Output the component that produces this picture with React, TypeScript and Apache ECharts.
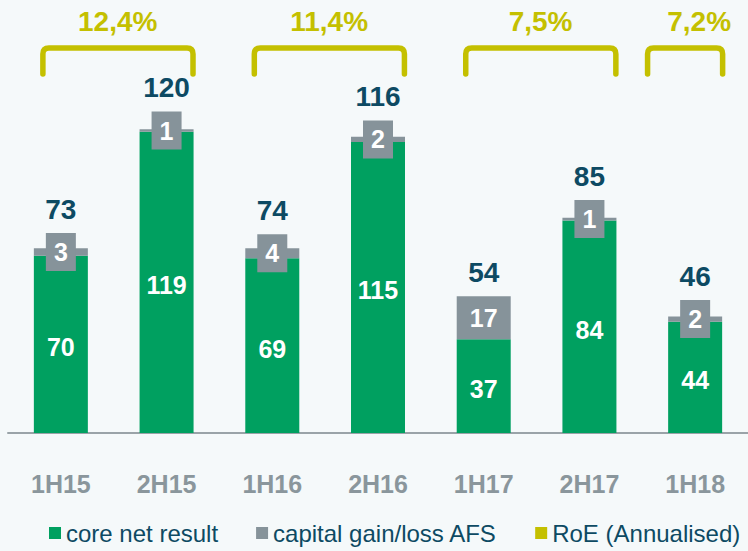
import React, { useEffect, useRef } from "react";
import * as echarts from "echarts";

const categories = ["1H15", "2H15", "1H16", "2H16", "1H17", "2H17", "1H18"];
const coreNetResult = [70, 119, 69, 115, 37, 84, 44];
const capitalGainAFS = [3, 1, 4, 2, 17, 1, 2];
const totalResult = [73, 120, 74, 116, 54, 85, 46];
const roeStart = [0, 2, 4, 6];
const roeEnd = [1, 3, 5, 6];
const roeLabels = ["12,4%", "11,4%", "7,5%", "7,2%"];

const FONT = "'Liberation Sans', Arial, sans-serif";
const GREEN = "#00a060";
const GRAY = "#86939a";
const YELLOW = "#c4c000";
const DARK = "#0d4a63";
const BG = "#f5f9fa";

export default function App() {
  const ref = useRef<HTMLDivElement>(null);
  useEffect(() => {
    if (!ref.current) return;
    const chart = echarts.init(ref.current, undefined, { renderer: "svg" });
    const totalsData = categories.map((_, i) => [i, coreNetResult[i], capitalGainAFS[i], totalResult[i]]);
    const roeData = roeStart.map((s, i) => [s, roeEnd[i], i]);
    chart.setOption({
      animation: false,
      backgroundColor: BG,
      textStyle: { fontFamily: FONT },
      grid: { left: 8, top: 28, width: 751, height: 405 },
      legend: {
        left: 49,
        top: 521,
        width: 740,
        padding: 0,
        icon: "rect",
        itemWidth: 12,
        itemHeight: 12,
        itemGap: 38,
        data: ["core net result", "capital gain/loss AFS", "RoE (Annualised)"],
        textStyle: { color: DARK, fontSize: 24, fontFamily: FONT },
      },
      xAxis: {
        type: "category",
        data: categories,
        axisTick: { show: false },
        axisLine: { lineStyle: { color: "#9aa3a8", width: 2 } },
        axisLabel: { color: "#8a969c", fontSize: 25, fontWeight: "bold", margin: 38, fontFamily: FONT },
      },
      yAxis: { type: "value", min: 0, max: 160, show: false, splitLine: { show: false } },
      series: [
        {
          name: "core net result",
          type: "bar",
          stack: "total",
          barWidth: 54,
          data: coreNetResult,
          itemStyle: { color: GREEN },
          label: {
            show: true,
            position: "inside",
            offset: [0, 3],
            color: "#fff",
            fontSize: 25,
            fontWeight: "bold",
            fontFamily: FONT,
          },
        },
        {
          name: "capital gain/loss AFS",
          type: "bar",
          stack: "total",
          barWidth: 54,
          data: capitalGainAFS,
          itemStyle: { color: GRAY },
          label: {
            show: true,
            position: "inside",
            color: "#fff",
            fontSize: 25,
            fontWeight: "bold",
            fontFamily: FONT,
            backgroundColor: GRAY,
            width: 30,
            height: 38,
            lineHeight: 38,
            align: "center",
            verticalAlign: "middle",
            padding: 0,
          },
        },
        {
          name: "totals",
          type: "custom",
          clip: false,
          data: totalsData,
          encode: { x: 0, y: 1 },
          silent: true,
          renderItem: (params: any, api: any) => {
            const i = api.value(0);
            const core = api.value(1);
            const gain = api.value(2);
            const total = api.value(3);
            const top = api.coord([i, core + gain]);
            const mid = api.coord([i, core + gain / 2]);
            const boxTop = Math.min(top[1], mid[1] - 19);
            return {
              type: "text",
              x: top[0],
              y: boxTop - 24,
              style: {
                text: String(total),
                fill: DARK,
                fontSize: 28,
                fontWeight: "bold",
                fontFamily: FONT,
                align: "center",
                verticalAlign: "middle",
              },
            };
          },
        },
        {
          name: "RoE (Annualised)",
          type: "custom",
          clip: false,
          silent: true,
          itemStyle: { color: YELLOW },
          data: roeData,
          encode: { x: [0, 1] },
          renderItem: (params: any, api: any) => {
            const s = api.value(0);
            const e = api.value(1);
            const idx = api.value(2);
            const band = api.size([1, 0])[0];
            const cs = api.coord([s, 0])[0];
            const ce = api.coord([e, 0])[0];
            let left: number, right: number;
            if (s === e) {
              left = cs - 0.45 * band;
              right = cs + 0.26 * band;
            } else {
              left = cs - 0.17 * band;
              right = ce + 0.25 * band;
            }
            const gy = params.coordSys.y;
            const t = gy + 20;
            const b = t + 26;
            const r = 6;
            const d = `M${left},${b} L${left},${t + r} Q${left},${t} ${left + r},${t} L${right - r},${t} Q${right},${t} ${right},${t + r} L${right},${b}`;
            return {
              type: "group",
              children: [
                {
                  type: "path",
                  shape: { pathData: d },
                  style: { fill: "none", stroke: YELLOW, lineWidth: 5.5, lineCap: "round", lineJoin: "round" },
                },
                {
                  type: "text",
                  x: (cs + ce) / 2 + 4,
                  y: gy - 7,
                  style: {
                    text: roeLabels[idx],
                    fill: YELLOW,
                    fontSize: 28,
                    fontWeight: "bold",
                    fontFamily: FONT,
                    align: "center",
                    verticalAlign: "middle",
                  },
                },
              ],
            };
          },
        },
      ],
    });
    return () => chart.dispose();
  }, []);
  return (
    <div
      ref={ref}
      style={{ position: "fixed", left: 0, top: 0, width: 748, height: 551, background: BG }}
    />
  );
}
